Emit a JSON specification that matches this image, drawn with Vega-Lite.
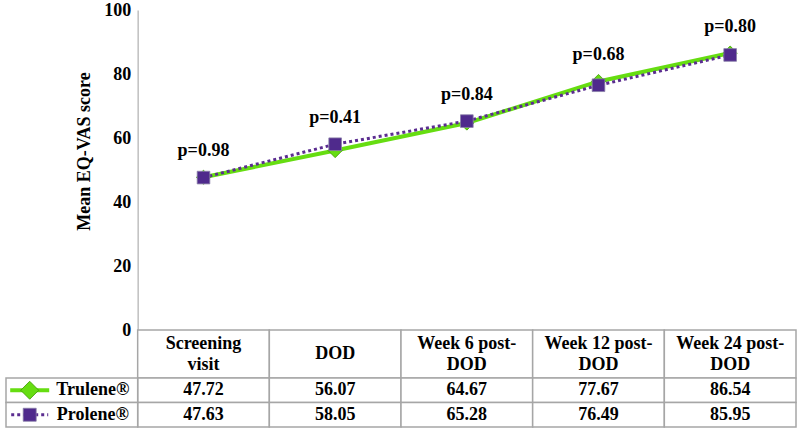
{
  "$schema": "https://vega.github.io/schema/vega-lite/v6.json",
  "padding": {"top": 1, "left": 1, "right": 1, "bottom": 0},
  "spacing": 0,
  "bounds": "flush",
  "config": {
    "font": "Times New Roman, Liberation Serif, serif",
    "view": {"stroke": null},
    "text": {"font": "Times New Roman, Liberation Serif, serif", "fontWeight": "bold", "fontSize": 18, "color": "#000000"}
  },
  "datasets": {
    "visits": [
      {"visit": "Screening visit", "label": "Screening\nvisit", "Trulene": 47.72, "Prolene": 47.63, "p": "p=0.98"},
      {"visit": "DOD", "label": "DOD", "Trulene": 56.07, "Prolene": 58.05, "p": "p=0.41"},
      {"visit": "Week 6 post-DOD", "label": "Week 6 post-\nDOD", "Trulene": 64.67, "Prolene": 65.28, "p": "p=0.84"},
      {"visit": "Week 12 post-DOD", "label": "Week 12 post-\nDOD", "Trulene": 77.67, "Prolene": 76.49, "p": "p=0.68"},
      {"visit": "Week 24 post-DOD", "label": "Week 24 post-\nDOD", "Trulene": 86.54, "Prolene": 85.95, "p": "p=0.80"}
    ],
    "series": [
      {"visit": "Series", "series": "Trulene", "name": "Trulene®"},
      {"visit": "Series", "series": "Prolene", "name": "Prolene®"}
    ]
  },
  "vconcat": [
    {
      "width": 795,
      "height": 320,
      "data": {"name": "visits"},
      "transform": [{"fold": ["Trulene", "Prolene"], "as": ["series", "value"]}],
      "encoding": {
        "x": {"field": "visit", "type": "nominal", "scale": {"type": "band", "domain": ["Series", "Screening visit", "DOD", "Week 6 post-DOD", "Week 12 post-DOD", "Week 24 post-DOD"], "paddingInner": 0, "paddingOuter": 0.019, "align": 1}, "axis": null},
        "y": {
          "field": "value", "type": "quantitative",
          "scale": {"domain": [0, 100], "nice": false, "zero": true},
          "axis": {
            "title": "Mean EQ-VAS score",
            "values": [0, 20, 40, 60, 80, 100],
            "offset": -136.67,
            "grid": false,
            "ticks": false,
            "domainColor": "#bfbfbf",
            "domainWidth": 1.5,
            "labelFont": "Times New Roman, Liberation Serif, serif",
            "labelFontSize": 18,
            "labelFontWeight": "bold",
            "labelColor": "#000000",
            "labelPadding": 7,
            "titleFont": "Times New Roman, Liberation Serif, serif",
            "titleFontSize": 18,
            "titleFontWeight": "bold",
            "titleColor": "#000000",
            "titlePadding": 10,
            "titleY": 141
          }
        }
      },
      "layer": [
        {"transform": [{"filter": "datum.series === 'Trulene'"}], "mark": {"type": "line", "color": "#66dd11", "strokeWidth": 4}},
        {"transform": [{"filter": "datum.series === 'Prolene'"}], "mark": {"type": "line", "color": "#5b2d90", "strokeWidth": 3, "strokeDash": [3, 3]}},
        {"transform": [{"filter": "datum.series === 'Trulene'"}], "mark": {"type": "point", "shape": "diamond", "size": 200, "filled": true, "fill": "#66dd11", "stroke": "#3d9900", "strokeWidth": 0.8, "opacity": 1}},
        {"transform": [{"filter": "datum.series === 'Prolene'"}], "mark": {"type": "point", "shape": "square", "size": 160, "filled": true, "fill": "#4f2a8c", "stroke": "#8a80a8", "strokeWidth": 0.8, "opacity": 1}},
        {
          "mark": {"type": "text", "dy": -26, "baseline": "middle"},
          "encoding": {
            "y": {"aggregate": "max", "field": "value", "type": "quantitative", "title": "Mean EQ-VAS score"},
            "text": {"field": "p"}
          }
        }
      ]
    },
    {
      "width": 795,
      "height": 48,
      "data": {"name": "visits"},
      "encoding": {
        "x": {"field": "visit", "type": "nominal", "scale": {"type": "band", "domain": ["Series", "Screening visit", "DOD", "Week 6 post-DOD", "Week 12 post-DOD", "Week 24 post-DOD"], "paddingInner": 0, "paddingOuter": 0.019, "align": 1}, "axis": null}
      },
      "layer": [
        {"mark": {"type": "rect", "fill": "#ffffff", "stroke": "#a6a6a6", "strokeWidth": 1.5}},
        {"transform": [{"filter": "indexof(datum.label, '\\n') >= 0"}], "mark": {"type": "text", "lineBreak": "\n", "lineHeight": 21, "baseline": "middle", "dy": -10.5}, "encoding": {"text": {"field": "label"}}},
        {"transform": [{"filter": "indexof(datum.label, '\\n') < 0"}], "mark": {"type": "text", "baseline": "middle"}, "encoding": {"text": {"field": "label"}}}
      ]
    },
    {
      "width": 795,
      "height": 49,
      "layer": [
        {
          "data": {"name": "visits"},
          "transform": [{"fold": ["Trulene", "Prolene"], "as": ["series", "value"]}],
          "encoding": {
            "x": {"field": "visit", "type": "nominal", "scale": {"type": "band", "domain": ["Series", "Screening visit", "DOD", "Week 6 post-DOD", "Week 12 post-DOD", "Week 24 post-DOD"], "paddingInner": 0, "paddingOuter": 0.019, "align": 1}, "axis": null},
            "y": {"field": "series", "type": "nominal", "scale": {"type": "band", "domain": ["Trulene", "Prolene"], "paddingInner": 0, "paddingOuter": 0}, "axis": null}
          },
          "layer": [
            {"mark": {"type": "rect", "fill": "#ffffff", "stroke": "#a6a6a6", "strokeWidth": 1.5}},
            {"mark": {"type": "text", "baseline": "middle"}, "encoding": {"text": {"field": "value", "type": "quantitative", "format": ".2f"}}}
          ]
        },
        {
          "data": {"name": "series"},
          "encoding": {
            "y": {"field": "series", "type": "nominal", "scale": {"type": "band", "domain": ["Trulene", "Prolene"], "paddingInner": 0, "paddingOuter": 0}, "axis": null}
          },
          "layer": [
            {"mark": {"type": "rect", "fill": "#ffffff", "stroke": "#a6a6a6", "strokeWidth": 1.5}, "encoding": {"x": {"field": "visit", "type": "nominal", "axis": null}}},
            {"transform": [{"filter": "datum.series === 'Trulene'"}], "mark": {"type": "point", "shape": "stroke", "size": 1521, "filled": false, "stroke": "#66dd11", "strokeWidth": 4, "opacity": 1}, "encoding": {"x": {"field": "visit", "type": "nominal", "bandPosition": 0.18, "axis": null}}},
            {"transform": [{"filter": "datum.series === 'Trulene'"}], "mark": {"type": "point", "shape": "diamond", "size": 324, "filled": true, "fill": "#66dd11", "stroke": "#3d9900", "strokeWidth": 0.8, "opacity": 1}, "encoding": {"x": {"field": "visit", "type": "nominal", "bandPosition": 0.18, "axis": null}}},
            {"transform": [{"filter": "datum.series === 'Prolene'"}], "mark": {"type": "point", "shape": "stroke", "size": 1369, "filled": false, "stroke": "#5b2d90", "strokeWidth": 3, "strokeDash": [3, 3], "opacity": 1}, "encoding": {"x": {"field": "visit", "type": "nominal", "bandPosition": 0.18, "axis": null}}},
            {"transform": [{"filter": "datum.series === 'Prolene'"}], "mark": {"type": "point", "shape": "square", "size": 169, "filled": true, "fill": "#4f2a8c", "stroke": "#8a80a8", "strokeWidth": 0.8, "opacity": 1}, "encoding": {"x": {"field": "visit", "type": "nominal", "bandPosition": 0.18, "axis": null}}},
            {"mark": {"type": "text", "baseline": "middle", "align": "center"}, "encoding": {"x": {"field": "visit", "type": "nominal", "bandPosition": 0.66, "axis": null}, "text": {"field": "name"}}}
          ]
        }
      ],
      "resolve": {"scale": {"x": "shared"}}
    }
  ]
}
